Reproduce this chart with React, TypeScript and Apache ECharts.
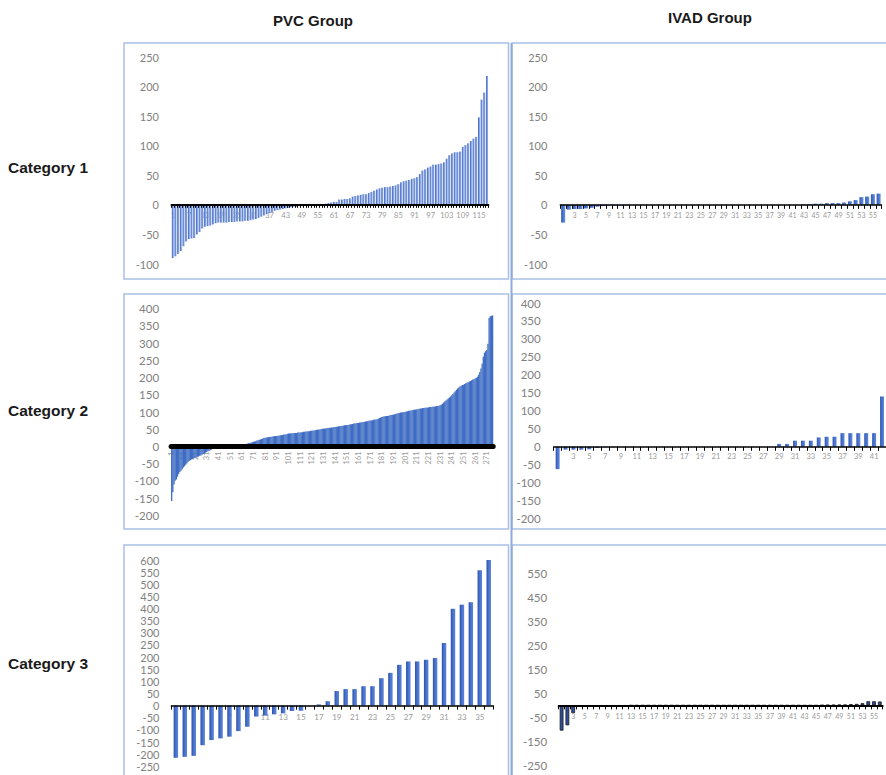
import React, { useEffect, useRef } from 'react';
import * as echarts from 'echarts';

const columnTitles = ['PVC Group', 'IVAD Group'];
const rowTitles = ['Category 1', 'Category 2', 'Category 3'];

const pvcCategory1 = [
  -90, -87, -83, -78, -70, -62, -58, -57, -56, -50,
  -46, -40, -37, -36, -35, -33, -31, -30, -30, -30,
  -30, -29, -29, -29, -28, -28, -28, -27, -27, -26,
  -25, -24, -22, -20, -18, -16, -14, -12, -10, -9,
  -8, -7, -6, -5, -4, -3, -3, -2, -2, -1,
  -1, -1, 0, 0, 0, 1, 1, 2, 3, 4,
  5, 5, 9, 9, 10, 10, 11, 14, 15, 16,
  17, 18, 18, 20, 22, 24, 26, 28, 29, 30,
  30, 31, 32, 33, 35, 38, 40, 41, 42, 44,
  45, 47, 52, 58, 60, 63, 65, 68, 68, 69,
  70, 72, 78, 84, 87, 89, 89, 90, 98, 101,
  104, 108, 112, 115, 148, 178, 190, 218,
];

const ivadCategory1 = [
  -30, -8, -7, -7, -6, -5, -3, -2, -1, -1,
  -1, -1, 0, 0, 0, 0, 0, 0, 0, 0,
  0, 0, 0, 0, 0, 0, 0, 0, 0, 0,
  0, 0, 0, 0, 0, 0, 0, 0, 0, 0,
  0, 0, 1, 1, 2, 2, 3, 3, 3, 4,
  6, 8, 13, 14, 18, 19,
];

const pvcCategory2 = [
  -160, -135, -112, -101, -98, -90, -82, -76, -72, -68,
  -63, -59, -55, -51, -47, -44, -42, -40, -38, -37,
  -35, -34, -32, -31, -29, -28, -26, -24, -22, -20,
  -18, -16, -15, -13, -11, -9, -7, -5, -4, -3,
  -2, -2, -1, -1, -1, 0, 0, 0, 0, 0,
  0, 0, 0, 1, 2, 3, 3, 4, 5, 5,
  6, 7, 7, 8, 9, 10, 11, 12, 13, 14,
  15, 16, 17, 19, 20, 21, 22, 23, 25, 26,
  27, 28, 28, 29, 29, 30, 30, 31, 31, 32,
  32, 33, 33, 34, 34, 35, 36, 36, 37, 38,
  39, 39, 40, 40, 40, 41, 41, 41, 42, 42,
  42, 43, 43, 44, 44, 45, 45, 46, 46, 47,
  47, 48, 48, 49, 50, 50, 51, 51, 52, 53,
  53, 54, 54, 55, 55, 56, 56, 57, 57, 58,
  58, 59, 59, 60, 60, 61, 62, 62, 63, 63,
  64, 64, 65, 66, 66, 67, 68, 68, 69, 70,
  70, 71, 71, 72, 73, 73, 74, 75, 75, 76,
  77, 77, 78, 79, 80, 80, 81, 82, 84, 86,
  87, 88, 89, 89, 90, 90, 91, 92, 93, 94,
  94, 95, 96, 97, 98, 99, 100, 100, 101, 102,
  102, 103, 104, 105, 105, 106, 107, 108, 108, 109,
  110, 110, 111, 112, 112, 113, 113, 114, 114, 115,
  115, 116, 116, 117, 117, 118, 118, 119, 119, 120,
  121, 123, 126, 129, 132, 135, 138, 141, 144, 147,
  150, 154, 158, 162, 166, 170, 173, 176, 178, 180,
  181, 183, 185, 187, 188, 190, 192, 194, 196, 197,
  199, 201, 204, 210, 218, 228, 242, 262, 274, 278,
  282, 300, 375, 380, 381, 382,
];

const ivadCategory2 = [
  -62, -8, -8, -8, -7, -3, -1, -1, 0, 0,
  0, 0, 0, 0, 0, 0, 0, 0, 0, 0,
  0, 0, 0, 0, 0, 0, 0, 0, 8, 8,
  17, 17, 17, 26, 28, 28, 38, 38, 38, 38,
  38, 140,
];

const pvcCategory3 = [
  -215, -211, -207, -163, -142, -135, -128, -105, -87, -45,
  -41, -36, -32, -22, -21, -1, 5, 18, 60, 68,
  68, 80, 80, 113, 135, 168, 182, 182, 189, 196,
  258, 399, 416, 426, 558, 601,
];

const ivadCategory3 = [
  -105, -83, -32, -4, -3, -3, -2, -2, -2, -1,
  -1, -1, 0, 0, 0, 0, 0, 0, 0, 0,
  0, 0, 0, 0, 0, 0, 0, 0, 0, 0,
  0, 0, 0, 0, 0, 0, 0, 0, 0, 0,
  0, 0, 0, 0, 0, 1, 2, 2, 3, 3,
  5, 6, 9, 17, 17, 16,
];

// y-axis ranges per row
const row1Range = { min: -100, max: 250, interval: 50 };
const row2Range = { min: -200, max: 400, interval: 50 };
const row3Range = { min: -250, max: 600, interval: 50 };

const CHART_W = 886;
const CHART_H = 775;

function categoryNames(n: number): string[] {
  const out: string[] = [];
  for (let i = 1; i <= n; i++) out.push(String(i));
  return out;
}

const grad = (stops: [number, string][]) =>
  new echarts.graphic.LinearGradient(
    0, 0, 1, 0,
    stops.map(([offset, color]) => ({ offset, color }))
  );

export default function App() {
  const ref = useRef<HTMLDivElement>(null);

  useEffect(() => {
    if (!ref.current) return;
    const chart = echarts.init(ref.current, undefined, { renderer: 'svg' });

    const panels = [
      {
        values: pvcCategory1, range: row1Range,
        left: 171.5, right: 397.6, top: 57, bottom: 511,
        yFont: 11, yMargin: 12.5, yFilter: null as null | ((v: number) => boolean),
        xInterval: 5, xMargin: 7, xFont: 7.5, xRotate: 0,
        lineWidth: 2, tickLen: 3, showTicks: true, gap: '25%',
        color: grad([[0, '#365cb4'], [0.45, '#6a8dda'], [1, '#a2baec']]),
        borderColor: 'rgba(0,0,0,0)', borderWidth: 0,
      },
      {
        values: ivadCategory1, range: row1Range,
        left: 560.3, right: 4.5, top: 57, bottom: 511,
        yFont: 11, yMargin: 13, yFilter: null,
        xInterval: 1, xMargin: 7, xFont: 7, xRotate: 0,
        lineWidth: 1.5, tickLen: 4, showTicks: true, gap: '30%',
        color: grad([[0, '#2f58b4'], [0.5, '#4a75cc'], [1, '#6a90dc']]),
        borderColor: 'rgba(0,0,0,0)', borderWidth: 0,
      },
      {
        values: pvcCategory2, range: row2Range,
        left: 171.1, right: 392.8, top: 308.7, bottom: 259.7,
        yFont: 11.5, yMargin: 12, yFilter: null,
        xInterval: 9, xMargin: 5, xFont: 7.5, xRotate: 90,
        lineWidth: 5, tickLen: 0, showTicks: false, gap: '0%',
        color: '#3f6dc3',
        borderColor: '#3f6dc3', borderWidth: 1.3,
      },
      {
        values: ivadCategory2, range: row2Range,
        left: 553.7, right: -3.7, top: 303, bottom: 256.3,
        yFont: 11.5, yMargin: 13, yFilter: null,
        xInterval: 1, xMargin: 6, xFont: 7.5, xRotate: 0,
        lineWidth: 1.5, tickLen: 4, showTicks: true, gap: '50%',
        color: grad([[0, '#2c53ad'], [0.5, '#4a74cc'], [1, '#5f87da']]),
        borderColor: 'rgba(0,0,0,0)', borderWidth: 0,
      },
      {
        values: pvcCategory3, range: row3Range,
        left: 171.4, right: 392.8, top: 560, bottom: 8.7,
        yFont: 11, yMargin: 12, yFilter: null,
        xInterval: 1, xMargin: 7, xFont: 8, xRotate: 0,
        lineWidth: 1.5, tickLen: 4, showTicks: true, gap: '50%',
        color: grad([[0, '#2a50ac'], [0.5, '#4a74cc'], [1, '#5b83d6']]),
        borderColor: 'rgba(0,0,0,0)', borderWidth: 0,
      },
      {
        values: ivadCategory3, range: row3Range,
        left: 558.7, right: 3.3, top: 561, bottom: 9.5,
        yFont: 11.5, yMargin: 11.5, yFilter: (v: number) => (v + 250) % 100 === 0,
        xInterval: 1, xMargin: 7, xFont: 7, xRotate: 0,
        lineWidth: 2, tickLen: 4, showTicks: true, gap: '35%',
        color: '#2d4e9e',
        borderColor: '#1a1a1a', borderWidth: 0.8,
      },
    ];

    const grid: any[] = [];
    const xAxis: any[] = [];
    const yAxis: any[] = [];
    const series: any[] = [];

    panels.forEach((p, i) => {
      const names = categoryNames(p.values.length);
      grid.push({ left: p.left, right: p.right, top: p.top, bottom: p.bottom, containLabel: false });
      // distance from the bottom of the grid up to the zero line
      const plotH = CHART_H - p.top - p.bottom;
      const zeroLift = (plotH * (0 - p.range.min)) / (p.range.max - p.range.min);
      xAxis.push({
        gridIndex: i, type: 'category', data: names, position: 'bottom', boundaryGap: true,
        offset: -zeroLift,
        axisLine: { show: false, onZero: false },
        axisTick: { show: false },
        splitLine: { show: false },
        axisLabel: {
          interval: p.xInterval, fontSize: p.xFont, color: '#9a9a9a', margin: p.xMargin,
          rotate: p.xRotate, fontFamily: 'Lato',
        },
        z: 0,
      });
      xAxis.push({
        gridIndex: i, type: 'category', data: names, position: 'bottom', boundaryGap: true,
        offset: -zeroLift,
        axisLine: { show: true, onZero: false, lineStyle: { color: '#000', width: p.lineWidth } },
        axisTick: { show: p.showTicks, interval: 0, length: p.tickLen, lineStyle: { color: '#000', width: 1 } },
        axisLabel: { show: false },
        splitLine: { show: false },
        z: 5,
      });
      const filter = p.yFilter;
      yAxis.push({
        gridIndex: i, type: 'value', min: p.range.min, max: p.range.max, interval: p.range.interval,
        axisLine: { show: false }, axisTick: { show: false }, splitLine: { show: false },
        axisLabel: {
          color: '#7f7f7f', fontSize: p.yFont, margin: p.yMargin, fontFamily: 'Lato',
          formatter: (v: number) => (filter && !filter(v) ? '' : String(v)),
        },
      });
      series.push({
        type: 'bar', xAxisIndex: 2 * i, yAxisIndex: i, data: p.values,
        barCategoryGap: p.gap, silent: true, z: 2,
        itemStyle: { color: p.color, borderColor: p.borderColor, borderWidth: p.borderWidth },
      });
    });

    const borderStyle = { fill: 'none', stroke: '#a9c0e6', lineWidth: 1.5 };
    const panelRects = [
      [124, 43, 384.5, 236], [512, 43, 380, 236],
      [124, 294, 384.5, 235], [512, 294, 380, 235],
      [124, 545, 384.5, 240], [512, 545, 380, 240],
    ];
    const graphic: any[] = panelRects.map(([x, y, w, h]) => ({
      type: 'rect', shape: { x, y, width: w, height: h }, style: borderStyle, silent: true, z: -1,
    }));
    graphic.push({ type: 'line', shape: { x1: 511.5, y1: 43, x2: 511.5, y2: 775 }, style: { stroke: '#8eaadc', lineWidth: 2 }, z: -1 });

    const colX = [313, 710];
    const colY = [20, 17];
    columnTitles.forEach((t, i) => {
      graphic.push({
        type: 'text', x: colX[i], y: colY[i],
        style: { text: t, fill: '#1a1a1a', font: 'bold 15px "Liberation Sans", Arial', align: 'center', verticalAlign: 'middle' },
      });
    });
    const rowY = [167, 410, 663];
    rowTitles.forEach((t, i) => {
      graphic.push({
        type: 'text', x: 8, y: rowY[i],
        style: { text: t, fill: '#1a1a1a', font: 'bold 15.5px "Liberation Sans", Arial', align: 'left', verticalAlign: 'middle' },
      });
    });

    chart.setOption({
      animation: false,
      backgroundColor: '#ffffff',
      grid, xAxis, yAxis, series, graphic,
    });

    return () => chart.dispose();
  }, []);

  return (
    <div
      ref={ref}
      style={{ position: 'absolute', left: 0, top: 0, width: CHART_W, height: CHART_H, background: '#fff' }}
    />
  );
}
